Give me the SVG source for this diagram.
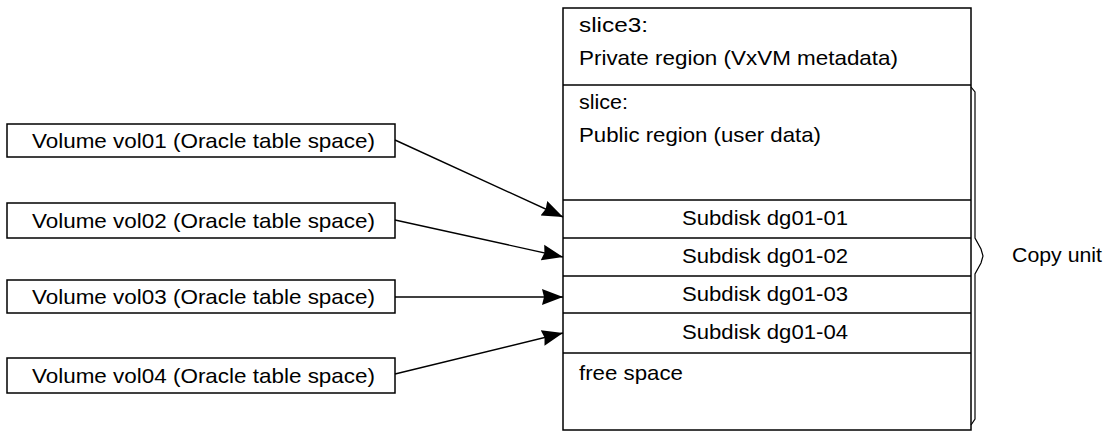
<svg xmlns="http://www.w3.org/2000/svg" width="1112" height="433" viewBox="0 0 1112 433">
<style>
.box{fill:#fff;stroke:#000;stroke-width:1.5}
.ln{fill:none;stroke:#000;stroke-width:1.5}
.t{font-family:"Liberation Sans",Arial,sans-serif;font-size:21px;fill:#000}
.arr{fill:none;stroke:#000;stroke-width:1.4;marker-end:url(#ah)}
</style>
<defs>
<marker id="ah" markerUnits="userSpaceOnUse" markerWidth="22" markerHeight="18" viewBox="0 0 22 18" refX="21" refY="9" orient="auto">
<path d="M0,1 L21,9 L0,17 L2,9 Z" fill="#000"/>
</marker>
</defs>
<rect width="1112" height="433" fill="#fff"/>
<g id="disk">
<rect class="box" x="563" y="8" width="408" height="422"/>
<line class="ln" x1="563" y1="85" x2="971" y2="85"/>
<line class="ln" x1="563" y1="200" x2="971" y2="200"/>
<line class="ln" x1="563" y1="238" x2="971" y2="238"/>
<line class="ln" x1="563" y1="276" x2="971" y2="276"/>
<line class="ln" x1="563" y1="313" x2="971" y2="313"/>
<line class="ln" x1="563" y1="353" x2="971" y2="353"/>
<text class="t" x="579" y="32" textLength="69" lengthAdjust="spacingAndGlyphs">slice3:</text>
<text class="t" x="579" y="65" textLength="319" lengthAdjust="spacingAndGlyphs">Private region (VxVM metadata)</text>
<text class="t" x="579" y="109" textLength="49" lengthAdjust="spacingAndGlyphs">slice:</text>
<text class="t" x="579" y="142" textLength="242" lengthAdjust="spacingAndGlyphs">Public region (user data)</text>
<text class="t" x="682" y="225" textLength="166" lengthAdjust="spacingAndGlyphs">Subdisk dg01-01</text>
<text class="t" x="682" y="263" textLength="166" lengthAdjust="spacingAndGlyphs">Subdisk dg01-02</text>
<text class="t" x="682" y="301" textLength="166" lengthAdjust="spacingAndGlyphs">Subdisk dg01-03</text>
<text class="t" x="682" y="339" textLength="166" lengthAdjust="spacingAndGlyphs">Subdisk dg01-04</text>
<text class="t" x="579" y="380" textLength="104" lengthAdjust="spacingAndGlyphs">free space</text>
</g>
<g id="copyunit">
<path class="ln" style="stroke-width:1.2" d="M971,87 L975,92 L975,238 L981,249 L983,256 L981,263 L975,274 L975,419 L971,425"/>
<text class="t" x="1012" y="262" textLength="90" lengthAdjust="spacingAndGlyphs">Copy unit</text>
</g>
<g id="vol01">
<rect class="box" x="7" y="124" width="388" height="33"/>
<text class="t" x="32" y="148" textLength="343" lengthAdjust="spacingAndGlyphs">Volume vol01 (Oracle table space)</text>
</g>
<g id="vol02">
<rect class="box" x="7" y="203" width="388" height="35"/>
<text class="t" x="32" y="228" textLength="343" lengthAdjust="spacingAndGlyphs">Volume vol02 (Oracle table space)</text>
</g>
<g id="vol03">
<rect class="box" x="7" y="280" width="388" height="33"/>
<text class="t" x="32" y="304" textLength="343" lengthAdjust="spacingAndGlyphs">Volume vol03 (Oracle table space)</text>
</g>
<g id="vol04">
<rect class="box" x="7" y="358" width="388" height="35"/>
<text class="t" x="32" y="383" textLength="343" lengthAdjust="spacingAndGlyphs">Volume vol04 (Oracle table space)</text>
</g>
<g id="connectors">
<line class="arr" x1="395" y1="140" x2="563" y2="217"/>
<line class="arr" x1="395" y1="220" x2="563" y2="257"/>
<line class="arr" x1="395" y1="297" x2="563" y2="297"/>
<line class="arr" x1="395" y1="374" x2="563" y2="333"/>
</g>
</svg>
